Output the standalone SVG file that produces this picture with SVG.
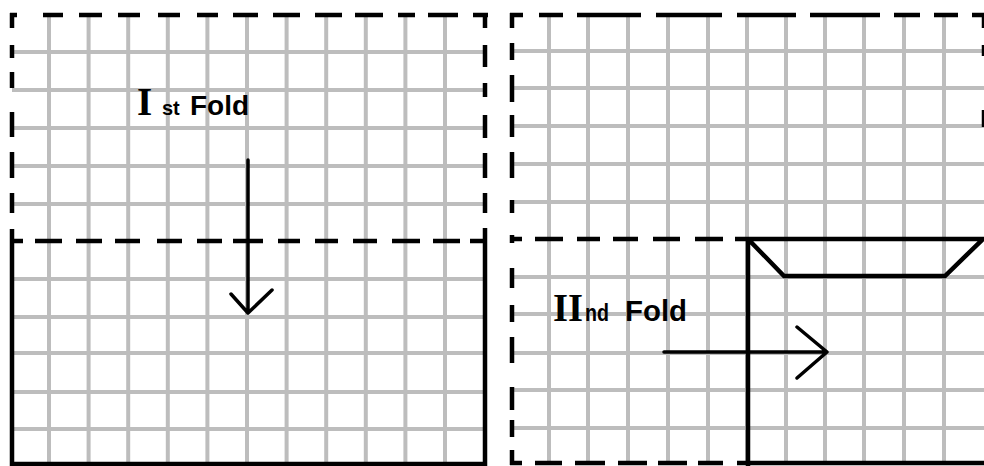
<svg xmlns="http://www.w3.org/2000/svg" width="984" height="466" viewBox="0 0 984 466">
<style>
.grid{stroke:#bdbdbd;stroke-width:4;fill:none}
.ink{stroke:#000;stroke-width:4.5;fill:none}
.arrow{stroke:#000;stroke-width:3.5;fill:none;stroke-linecap:round;stroke-linejoin:round}
.roman{font-family:"Liberation Serif",serif;font-weight:bold;fill:#000}
.lbl{font-family:"Liberation Sans",Arial,sans-serif;font-weight:bold;fill:#000}
</style>
<rect width="984" height="466" fill="#fff"/>
<g id="panel-left">
<path class="grid" d="M49 15V464M88.6 15V464M128.2 15V464M167.8 15V464M207.4 15V464M247 15V464M286.6 15V464M326.2 15V464M365.8 15V464M405.4 15V464M445 15V464
M12 52H486M12 90H486M12 128H486M12 166H486M12 204H486M12 279H486M12 317H486M12 353H486M12 392H486M12 429H486"/>
<path class="ink" d="M10 15H17M43 15H63M79 15H102M118 15H140M158 15H180M197 15H218M233 15H258M273 15H300M315 15H342M355 15H383M398 15H415M428 15H458M473 15H488
M12 13V28M12 45V58M12 72V88M12 112V137M12 152V178M12 193V213M12 229V466
M485 13V28M485 45V67M485 83V97M485 115V138M485 153V178M485 193V213M485 228V466
M12 241H23M35 241H62M76 241H102M115 241H140M157 241H182M197 241H222M233 241H263M278 241H300M315 241H338M353 241H377M392 241H420M433 241H460M470 241H485
M10 464H487"/>
<text class="roman" x="137" y="115" font-size="39">I</text>
<text class="lbl" x="162" y="115" font-size="20">st</text>
<text class="lbl" x="190" y="115" font-size="28">Fold</text>
</g>
<g id="panel-right">
<path class="grid" d="M549 15V464M588 15V464M628 15V464M668 15V464M708 15V464M747 15V464M786 15V464M825 15V464M864 15V464M904 15V464M944 15V464
M512 51H984M512 88H984M512 126H984M512 164H984M512 202H984M512 277H984M512 314H984M512 353H984M512 390H984M512 428H984"/>
<path class="ink" d="M510 15H523M539 15H563M577 15H641M656 15H722M737 15H796M810 15H880M894 15H920M934 15H958M972 15H984
M512 13V28M512 43V60M512 75V102M512 115V137M512 152V178M512 200V213M512 235V243M512 268V288M512 305V322M512 337V363M512 387V410M512 420V437M512 450V465
M512 239H522M535 239H563M577 239H600M613 239H638M653 239H680M695 239H723M735 239H748
M510 463H522M535 463H562M575 463H605M618 463H647M658 463H687M698 463H723M737 463H748"/>
<path class="ink" d="M984 13V28M984 45V56M984 110V127"/>
<path class="ink" d="M748 239H984M748 239V466M748 463H984M748 239L784 276H945L983 239"/>
<text class="roman" x="553" y="321" font-size="39" textLength="30" lengthAdjust="spacingAndGlyphs">II</text>
<text class="lbl" x="585" y="321" font-size="23" textLength="24" lengthAdjust="spacingAndGlyphs">nd</text>
<text class="lbl" x="625" y="321" font-size="29" textLength="62" lengthAdjust="spacingAndGlyphs">Fold</text>
</g>
<g id="connectors">
<path class="arrow" d="M248 160V313M231 294L248 313L272 290"/>
<path class="arrow" d="M664 352H827M797 327L827 352L797 378"/>
</g>
</svg>
